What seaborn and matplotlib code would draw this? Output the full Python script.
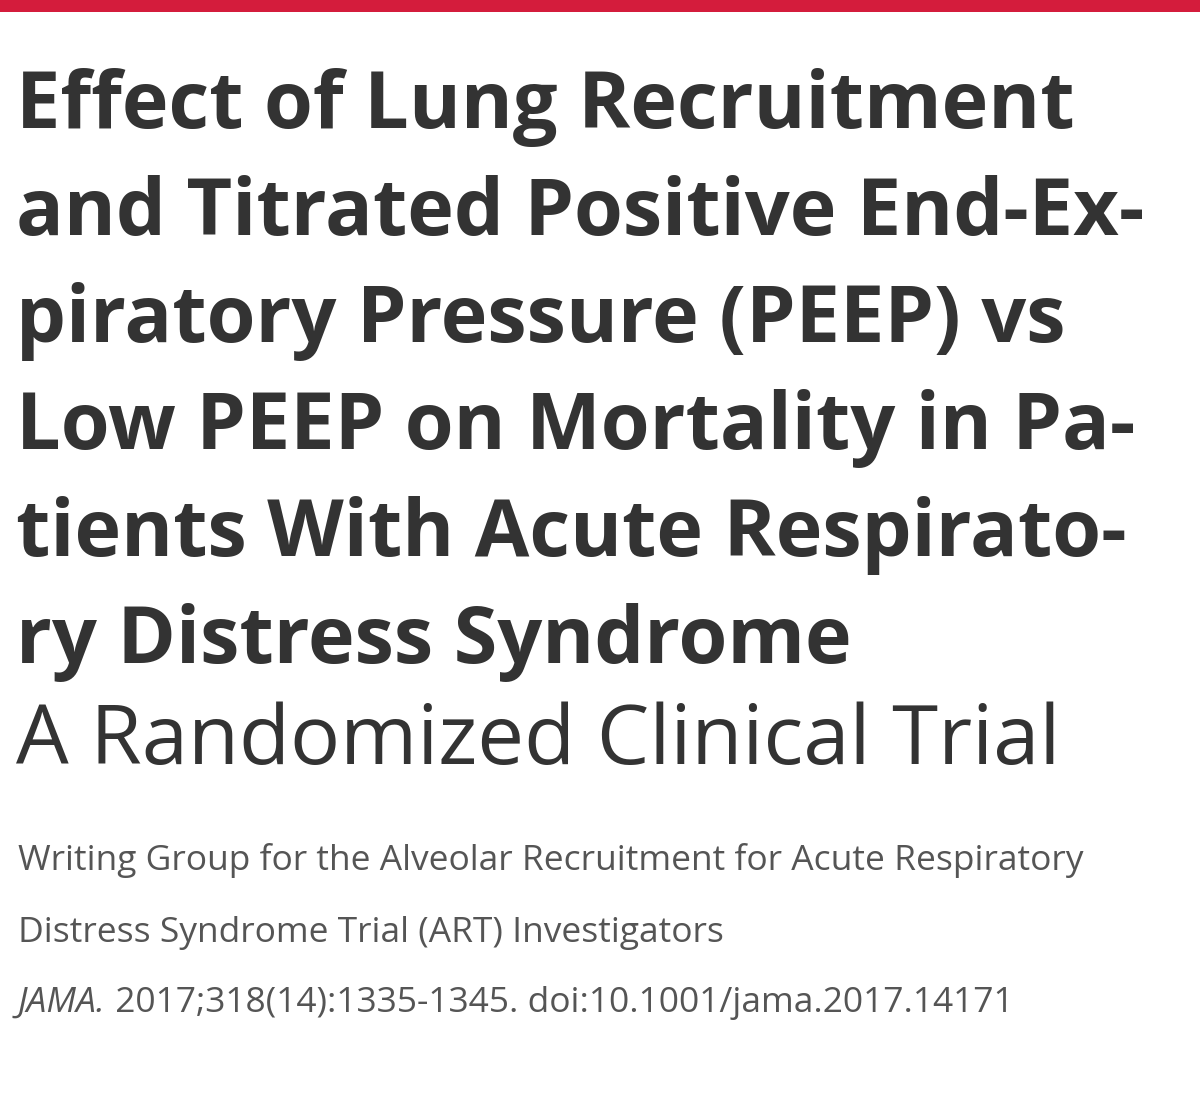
import matplotlib.pyplot as plt
import seaborn as sns

title_lines = [
    "Effect of Lung Recruitment",
    "and Titrated Positive End-Ex-",
    "piratory Pressure (PEEP) vs",
    "Low PEEP on Mortality in Pa-",
    "tients With Acute Respirato-",
    "ry Distress Syndrome",
]
subtitle = "A Randomized Clinical Trial"
author_lines = [
    "Writing Group for the Alveolar Recruitment for Acute Respiratory",
    "Distress Syndrome Trial (ART) Investigators",
]
journal = "JAMA."
citation = " 2017;318(14):1335-1345. doi:10.1001/jama.2017.14171"

sns.set_theme(style="white")
plt.rcParams["font.family"] = ["Open Sans", "DejaVu Sans"]

W, H = 1200, 1101
fig = plt.figure(figsize=(12, 11.01), dpi=100)
ax = fig.add_axes([0, 0, 1, 1])
ax.set_xlim(0, W)
ax.set_ylim(H, 0)
ax.axis("off")

# red band at top
ax.axhspan(0, 12, color="#d41c3c", lw=0)

ink = "#333333"
for i, line in enumerate(title_lines):
    ax.text(16, 128 + i * 107, line, fontsize=57, fontweight="bold",
            color=ink, va="baseline", ha="left")
ax.text(16, 764, subtitle, fontsize=60, color=ink, va="baseline", ha="left")

for i, line in enumerate(author_lines):
    ax.text(18, 870 + i * 72, line, fontsize=25.5, color="#555555",
            va="baseline", ha="left")

t = ax.text(18, 1012, journal, fontsize=25.5, color="#555555", style="italic",
            va="baseline", ha="left")
fig.canvas.draw()
bb = t.get_window_extent()
ax.text(bb.x1, 1012, citation, fontsize=25.5, color="#555555",
        va="baseline", ha="left")

fig.savefig("out.png", dpi=100, facecolor="white")
